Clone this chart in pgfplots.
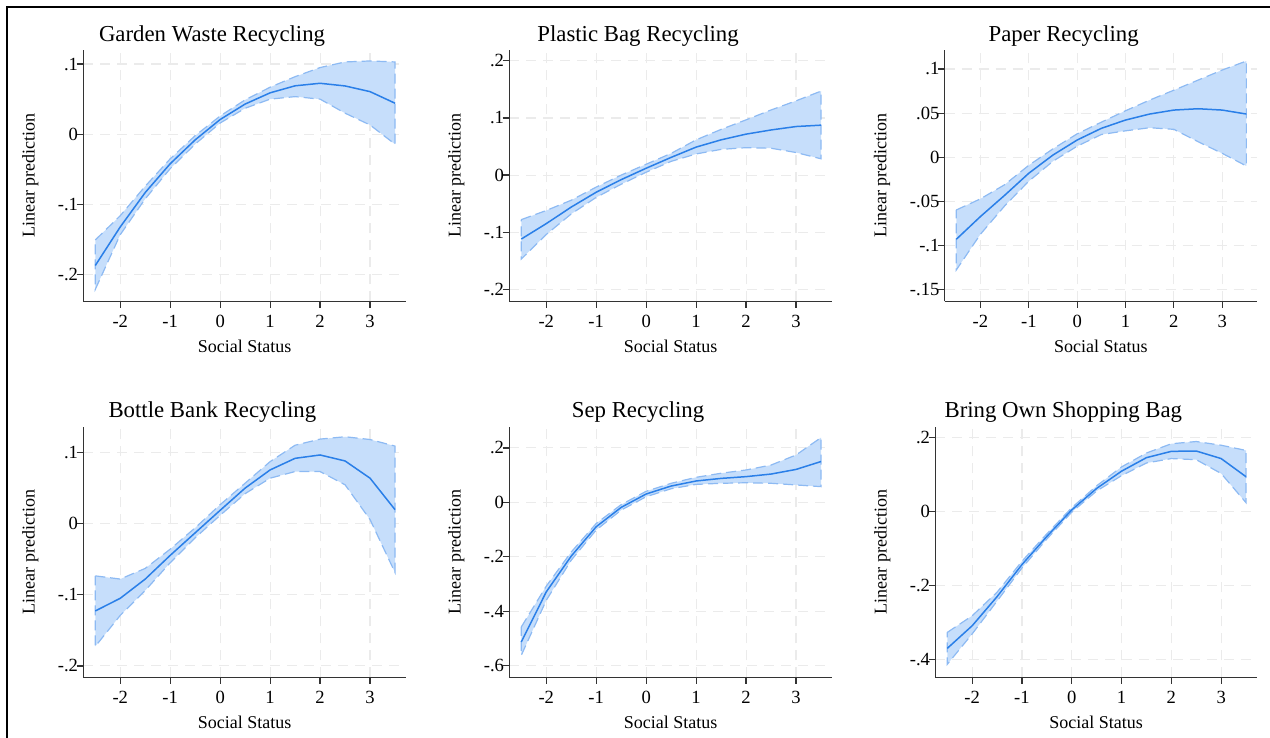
\documentclass[border=0pt]{standalone}
\usepackage{pgfplots}
\pgfplotsset{compat=1.18}
\usepackage{fontspec}
\setmainfont{Liberation Serif}
\definecolor{fitline}{HTML}{2A7FE8}
\definecolor{bandfill}{HTML}{C6DEFB}
\definecolor{bandedge}{HTML}{8DBAF3}
\definecolor{gridc}{HTML}{EBEBEB}
\definecolor{axc}{HTML}{333333}
\pgfplotsset{
  every axis title shift=0pt,
  panel/.style={
    scale only axis,
    axis lines*=left,
    axis line style={axc,line width=0.65pt,-},
    xmin=-2.74, xmax=3.72,
    xtick={-2,-1,0,1,2,3},
    xticklabels={-2,-1,0,1,2,3},
    tick align=outside,
    major tick length=3.3pt,
    tick style={axc,line width=0.6pt},
    grid=major,
    major grid style={gridc,line width=0.55pt,dash pattern=on 5pt off 3.5pt},
    ticklabel style={font=\fontsize{9.3}{10}\selectfont},
    yticklabel style={xshift=4.2pt},
    label style={font=\fontsize{9}{10}\selectfont},
    xlabel={Social Status},
    ylabel={Linear prediction},
    xlabel style={at={(axis description cs:0.5,-0.204)},anchor=base},
    title style={font=\fontsize{11.4}{13}\selectfont,anchor=base,yshift=0pt},
    clip=false,
  },
  band/.style={fill=bandfill,draw=bandedge,line width=0.6pt,dash pattern=on 5pt off 2.5pt,mark=none},
  fit/.style={fitline,line width=0.75pt,mark=none},
}
\begin{document}
\begin{tikzpicture}
\useasboundingbox (0,0) rectangle (635pt,-369pt);
\draw[black,line width=1.2pt] (3.5pt,-369pt) -- (3.5pt,-3.5pt) -- (635pt,-3.5pt);

% Panel 1: Garden Waste Recycling
\begin{axis}[panel, at={(41.65pt,-150.65pt)}, anchor=south west,
  width=161.35pt, height=125.65pt,
  ymin=-0.238, ymax=0.12,
  ytick={-0.2,-0.1,0,0.1}, yticklabels={-.2,-.1,0,.1},
  title={Garden Waste Recycling},
  title style={at={(axis description cs:0.399,1.033)}},
  ylabel style={at={(axis description cs:-0.164,0.5)},anchor=center}]
\addplot[band] coordinates {
(-2.5,-0.1506)(-2,-0.116)(-1.5,-0.074)(-1,-0.035)(-0.5,-0.002)(0,0.026)(0.5,0.049)(1,0.067)(1.5,0.082)(2,0.095)(2.5,0.103)(3,0.1044)(3.5,0.103)
(3.5,-0.0142)(3,0.0132)(2.5,0.030)(2,0.050)(1.5,0.0536)(1,0.050)(0.5,0.037)(0,0.016)(-0.5,-0.014)(-1,-0.049)(-1.5,-0.092)(-2,-0.143)(-2.5,-0.221)} -- cycle;
\addplot[fit] coordinates {
(-2.5,-0.187)(-2,-0.132)(-1.5,-0.083)(-1,-0.042)(-0.5,-0.008)(0,0.021)(0.5,0.043)(1,0.059)(1.5,0.069)(2,0.0726)(2.5,0.0688)(3,0.0607)(3.5,0.0442)};
\end{axis}

% Panel 2: Plastic Bag Recycling
\begin{axis}[panel, at={(254.65pt,-150.65pt)}, anchor=south west,
  width=161.35pt, height=125.65pt,
  ymin=-0.221, ymax=0.219,
  ytick={-0.2,-0.1,0,0.1,0.2}, yticklabels={-.2,-.1,0,.1,.2},
  title={Plastic Bag Recycling},
  title style={at={(axis description cs:0.399,1.033)}},
  ylabel style={at={(axis description cs:-0.164,0.5)},anchor=center}]
\addplot[band] coordinates {
(-2.5,-0.078)(-2,-0.062)(-1.5,-0.044)(-1,-0.021)(-0.5,0.000)(0,0.019)(0.5,0.038)(1,0.0617)(1.5,0.080)(2,0.0967)(2.5,0.114)(3,0.130)(3.5,0.147)
(3.5,0.0285)(3,0.0395)(2.5,0.047)(2,0.048)(1.5,0.045)(1,0.037)(0.5,0.024)(0,0.005)(-0.5,-0.016)(-1,-0.039)(-1.5,-0.068)(-2,-0.104)(-2.5,-0.147)} -- cycle;
\addplot[fit] coordinates {
(-2.5,-0.112)(-2,-0.085)(-1.5,-0.056)(-1,-0.030)(-0.5,-0.008)(0,0.012)(0.5,0.031)(1,0.049)(1.5,0.0617)(2,0.0717)(2.5,0.079)(3,0.085)(3.5,0.0874)};
\end{axis}

% Panel 3: Paper Recycling
\begin{axis}[panel, at={(472.35pt,-150.65pt)}, anchor=south west,
  width=156.15pt, height=125.65pt,
  ymin=-0.163, ymax=0.1215,
  ytick={-0.15,-0.1,-0.05,0,0.05,0.1}, yticklabels={-.15,-.1,-.05,0,.05,.1},
  title={Paper Recycling},
  title style={at={(axis description cs:0.381,1.033)}},
  ylabel style={at={(axis description cs:-0.2008,0.5)},anchor=center}]
\addplot[band] coordinates {
(-2.5,-0.0596)(-2,-0.047)(-1.5,-0.031)(-1,-0.009)(-0.5,0.0096)(0,0.0266)(0.5,0.0398)(1,0.0527)(1.5,0.0648)(2,0.076)(2.5,0.0874)(3,0.0988)(3.5,0.109)
(3.5,-0.0098)(3,0.0045)(2.5,0.0177)(2,0.0317)(1.5,0.0335)(1,0.030)(0.5,0.0258)(0,0.0126)(-0.5,-0.0044)(-1,-0.027)(-1.5,-0.055)(-2,-0.087)(-2.5,-0.1275)} -- cycle;
\addplot[fit] coordinates {
(-2.5,-0.0928)(-2,-0.067)(-1.5,-0.043)(-1,-0.018)(-0.5,0.0026)(0,0.0196)(0.5,0.0328)(1,0.0422)(1.5,0.049)(2,0.0535)(2.5,0.055)(3,0.0535)(3.5,0.049)};
\end{axis}

% Panel 4: Bottle Bank Recycling
\begin{axis}[panel, at={(41.65pt,-338.65pt)}, anchor=south west,
  width=161.35pt, height=125.3pt,
  ymin=-0.216, ymax=0.136,
  ytick={-0.2,-0.1,0,0.1}, yticklabels={-.2,-.1,0,.1},
  title={Bottle Bank Recycling},
  title style={at={(axis description cs:0.4,1.035)}},
  ylabel style={at={(axis description cs:-0.164,0.5)},anchor=center}]
\addplot[band] coordinates {
(-2.5,-0.0735)(-2,-0.078)(-1.5,-0.063)(-1,-0.036)(-0.5,-0.006)(0,0.0265)(0.5,0.0567)(1,0.087)(1.5,0.110)(2,0.1186)(2.5,0.1219)(3,0.118)(3.5,0.1088)
(3.5,-0.0688)(3,0.0056)(2.5,0.0544)(2,0.073)(1.5,0.073)(1,0.0637)(0.5,0.042)(0,0.0116)(-0.5,-0.020)(-1,-0.055)(-1.5,-0.094)(-2,-0.129)(-2.5,-0.1726)} -- cycle;
\addplot[fit] coordinates {
(-2.5,-0.1228)(-2,-0.105)(-1.5,-0.078)(-1,-0.0447)(-0.5,-0.013)(0,0.0186)(0.5,0.0498)(1,0.0753)(1.5,0.0916)(2,0.0963)(2.5,0.0879)(3,0.0637)(3.5,0.0195)};
\end{axis}

% Panel 5: Sep Recycling
\begin{axis}[panel, at={(254.65pt,-338.65pt)}, anchor=south west,
  width=161.35pt, height=125.3pt,
  ymin=-0.643, ymax=0.278,
  ytick={-0.6,-0.4,-0.2,0,0.2}, yticklabels={-.6,-.4,-.2,0,.2},
  title={Sep Recycling},
  title style={at={(axis description cs:0.399,1.035)}},
  ylabel style={at={(axis description cs:-0.164,0.5)},anchor=center}]
\addplot[band] coordinates {
(-2.5,-0.458)(-2,-0.308)(-1.5,-0.1825)(-1,-0.0776)(-0.5,-0.0084)(0,0.0407)(0.5,0.070)(1,0.092)(1.5,0.107)(2,0.119)(2.5,0.137)(3,0.174)(3.5,0.238)
(3.5,0.0577)(3,0.064)(2.5,0.070)(2,0.072)(1.5,0.070)(1,0.066)(0.5,0.050)(0,0.0207)(-0.5,-0.0284)(-1,-0.1016)(-1.5,-0.2125)(-2,-0.36)(-2.5,-0.562)} -- cycle;
\addplot[fit] coordinates {
(-2.5,-0.513)(-2,-0.329)(-1.5,-0.1975)(-1,-0.0896)(-0.5,-0.0184)(0,0.0307)(0.5,0.060)(1,0.0785)(1.5,0.088)(2,0.0945)(2.5,0.104)(3,0.121)(3.5,0.150)};
\end{axis}

% Panel 6: Bring Own Shopping Bag
\begin{axis}[panel, at={(467.65pt,-338.65pt)}, anchor=south west,
  width=160.85pt, height=125.3pt,
  ymin=-0.447, ymax=0.229,
  ytick={-0.4,-0.2,0,0.2}, yticklabels={-.4,-.2,0,.2},
  title={Bring Own Shopping Bag},
  title style={at={(axis description cs:0.398,1.035)}},
  ylabel style={at={(axis description cs:-0.165,0.5)},anchor=center}]
\addplot[band] coordinates {
(-2.5,-0.326)(-2,-0.281)(-1.5,-0.2175)(-1,-0.134)(-0.5,-0.060)(0,0.0105)(0.5,0.0695)(1,0.1205)(1.5,0.158)(2,0.183)(2.5,0.189)(3,0.179)(3.5,0.165)
(3.5,0.024)(3,0.1027)(2.5,0.140)(2,0.143)(1.5,0.131)(1,0.097)(0.5,0.0555)(0,-0.0015)(-0.5,-0.074)(-1,-0.152)(-1.5,-0.2415)(-2,-0.33)(-2.5,-0.412)} -- cycle;
\addplot[fit] coordinates {
(-2.5,-0.369)(-2,-0.308)(-1.5,-0.2295)(-1,-0.143)(-0.5,-0.067)(0,0.0045)(0.5,0.0625)(1,0.109)(1.5,0.1455)(2,0.1625)(2.5,0.1634)(3,0.143)(3.5,0.094)};
\end{axis}
\end{tikzpicture}
\end{document}
